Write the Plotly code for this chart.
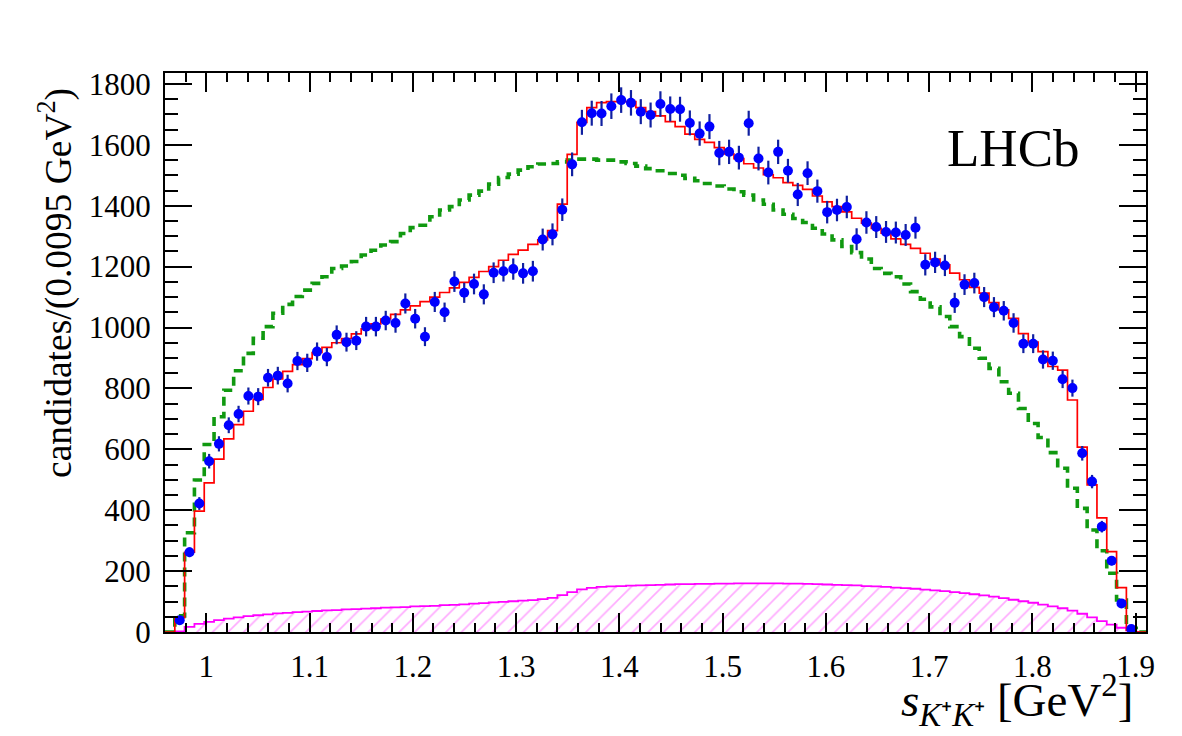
import numpy as np
import plotly.graph_objects as go

# ---- binning (100 bins of 0.0095 GeV^2 from 0.96 to 1.91) ----
x_lo, bin_w, n_bins = 0.96, 0.0095, 100

# ---- data points (bins 1..98) ----
data_counts = [39, 262, 422, 561, 618, 679, 716, 775, 773, 835,
               842, 816, 890, 884, 921, 903, 976, 952, 957, 1003,
               1003, 1023, 1015, 1079, 1029, 970, 1084, 1050, 1151, 1114,
               1143, 1109, 1180, 1185, 1192, 1178, 1185, 1289, 1306, 1387,
               1536, 1674, 1704, 1703, 1727, 1747, 1738, 1709, 1698, 1734,
               1718, 1717, 1672, 1637, 1660, 1573, 1577, 1558, 1671, 1555,
               1509, 1577, 1515, 1437, 1507, 1448, 1379, 1386, 1396, 1290,
               1345, 1330, 1314, 1312, 1304, 1328, 1206, 1214, 1204, 1081,
               1141, 1146, 1100, 1067, 1055, 1015, 947, 947, 895, 891,
               830, 801, 587, 494, 346, 234, 94, 10]
data_errors = [6, 16, 21, 24, 25, 26, 27, 28, 28, 29,
               29, 29, 30, 30, 30, 30, 31, 31, 31, 32,
               32, 32, 32, 33, 32, 31, 33, 32, 34, 33,
               34, 33, 34, 34, 35, 34, 34, 36, 36, 37,
               39, 41, 41, 41, 42, 42, 42, 41, 41, 42,
               41, 41, 41, 40, 41, 40, 40, 39, 41, 39,
               39, 40, 39, 38, 39, 38, 37, 37, 37, 36,
               37, 36, 36, 36, 36, 36, 35, 35, 35, 33,
               34, 34, 33, 33, 32, 32, 31, 31, 30, 30,
               29, 28, 24, 22, 19, 15, 10, 3]
first_data_bin = 1

# ---- total fit (red), bins 0..99 ----
fit_total = [0, 47, 262, 397, 490, 568, 634, 681, 725, 764,
             803, 831, 856, 878, 898, 918, 935, 950, 964, 979,
             996, 1012, 1028, 1043, 1058, 1071, 1085, 1100, 1115, 1130,
             1148, 1165, 1184, 1200, 1221, 1240, 1254, 1273, 1288, 1318,
             1405, 1569, 1674, 1722, 1739, 1742, 1742, 1742, 1722, 1709,
             1695, 1676, 1660, 1635, 1618, 1608, 1591, 1570, 1555, 1538,
             1524, 1502, 1492, 1476, 1467, 1454, 1432, 1413, 1397, 1380,
             1359, 1343, 1326, 1310, 1291, 1273, 1260, 1244, 1225, 1206,
             1179, 1157, 1132, 1113, 1082, 1058, 1030, 980, 952, 921,
             872, 860, 762, 607, 483, 375, 264, 146, 6, 0]

# ---- green dashed component, bins 0..99 ----
fit_green = [0, 53, 326, 499, 616, 707, 794, 858, 915, 965,
             1003, 1047, 1076, 1102, 1123, 1145, 1167, 1194, 1202, 1217,
             1238, 1254, 1271, 1282, 1309, 1328, 1336, 1364, 1386, 1397,
             1419, 1435, 1448, 1471, 1493, 1504, 1517, 1528, 1537, 1539,
             1544, 1550, 1553, 1553, 1550, 1550, 1544, 1539, 1530, 1522,
             1515, 1506, 1500, 1490, 1482, 1473, 1465, 1455, 1446, 1435,
             1419, 1405, 1386, 1372, 1358, 1345, 1326, 1307, 1288, 1266,
             1246, 1225, 1194, 1178, 1167, 1143, 1118, 1093, 1068, 1036,
             1003, 970, 932, 899, 866, 822, 784, 734, 685, 639,
             589, 538, 472, 406, 335, 267, 193, 105, 12, 0]

# ---- magenta hatched background, bins 0..99 ----
fit_bkg = [0, 2, 17, 27, 33, 39, 44, 48, 52, 55,
           58, 61, 63, 65, 67, 69, 71, 72, 74, 75,
           77, 78, 80, 81, 82, 84, 85, 86, 88, 89,
           91, 93, 95, 97, 99, 101, 103, 105, 108, 112,
           121, 131, 140, 145, 148, 150, 151, 152, 153, 154,
           155, 156, 157, 157, 158, 158, 159, 159, 160, 160,
           160, 160, 160, 159, 159, 158, 157, 156, 155, 154,
           153, 151, 150, 148, 146, 144, 142, 139, 137, 134,
           131, 128, 124, 120, 116, 111, 106, 101, 96, 90,
           84, 78, 70, 60, 48, 36, 24, 14, 5, 0]

x_tick_vals = [1.0, 1.1, 1.2, 1.3, 1.4, 1.5, 1.6, 1.7, 1.8, 1.9]
x_tick_text = ["1", "1.1", "1.2", "1.3", "1.4", "1.5", "1.6", "1.7", "1.8", "1.9"]
y_tick_vals = [0, 200, 400, 600, 800, 1000, 1200, 1400, 1600, 1800]
y_tick_text = ["0", "200", "400", "600", "800", "1000", "1200", "1400", "1600", "1800"]

edges = x_lo + bin_w * np.arange(n_bins + 1)
centers = x_lo + bin_w * (np.arange(n_bins) + 0.5)


def step_xy(vals):
    xs = np.concatenate([[edges[0]], edges])
    ys = np.concatenate([[0], vals, [vals[-1]]])
    return xs, ys


FONT = "Liberation Serif"
fig = go.Figure()

bx, by = step_xy(fit_bkg)
fig.add_trace(go.Scatter(
    x=bx, y=by, mode="lines", line=dict(color="#ff00ff", width=1.8, shape="hv"),
    fill="tozeroy", fillcolor="rgba(255,255,255,0)",
    fillpattern=dict(shape="/", fgcolor="#ff55ff", bgcolor="rgba(255,255,255,0)",
                     size=11, solidity=0.15),
    hoverinfo="skip", showlegend=False))

gx, gy = step_xy(fit_green)
fig.add_trace(go.Scatter(
    x=gx, y=gy, mode="lines",
    line=dict(color="#109910", width=3.6, shape="hv", dash="9px,6px"),
    hoverinfo="skip", showlegend=False))

rx, ry = step_xy(fit_total)
fig.add_trace(go.Scatter(
    x=rx, y=ry, mode="lines", line=dict(color="#ff0000", width=1.7, shape="hv"),
    hoverinfo="skip", showlegend=False))

dx = centers[first_data_bin:first_data_bin + len(data_counts)]
fig.add_trace(go.Scatter(
    x=dx, y=data_counts, mode="markers",
    marker=dict(color="#0000ff", size=10, line=dict(width=0)),
    error_y=dict(type="data", array=data_errors, color="#1020a0", thickness=2.2, width=0),
    showlegend=False))

L, R, T, B = 165, 36, 73, 104
W, H = 1182, 736
pw, ph = W - L - R, H - T - B


def px2paper_x(px):
    return (px - L) / pw


def px2paper_y(py):
    return (H - B - py) / ph


axis_common = dict(showline=True, linecolor="black", linewidth=2, mirror="ticks",
                   ticks="inside", tickcolor="black", tickwidth=1.6,
                   showgrid=False, zeroline=False,
                   tickfont=dict(family=FONT, size=31, color="black"))

fig.update_xaxes(range=[x_lo, x_lo + n_bins * bin_w], tickvals=x_tick_vals, ticktext=x_tick_text,
                 ticklen=19, ticklabelstandoff=6,
                 minor=dict(ticks="inside", ticklen=9, dtick=0.02, tick0=1.0,
                            tickcolor="black", tickwidth=1.6, showgrid=False),
                 **axis_common)
fig.update_yaxes(range=[0, 1836], tickvals=y_tick_vals, ticktext=y_tick_text,
                 ticklen=27, ticklabelstandoff=6,
                 minor=dict(ticks="inside", ticklen=13, dtick=50, tick0=0,
                            tickcolor="black", tickwidth=1.6, showgrid=False),
                 **axis_common)

fig.add_annotation(text="candidates/(0.0095 GeV<sup>2</sup>)", textangle=-90,
                   xref="paper", yref="paper", x=px2paper_x(56), y=px2paper_y(86),
                   xanchor="center", yanchor="top", showarrow=False,
                   font=dict(family=FONT, size=37.5, color="black"))
fig.add_annotation(text="<i>s</i><sub><i>K</i>\u207A<i>K</i>\u207A</sub> [GeV<sup>2</sup>]",
                   xref="paper", yref="paper", x=px2paper_x(1135), y=px2paper_y(700),
                   xanchor="right", yanchor="middle", showarrow=False,
                   font=dict(family=FONT, size=47, color="black"))
fig.add_annotation(text="LHCb", xref="paper", yref="paper",
                   x=px2paper_x(1013), y=px2paper_y(148),
                   xanchor="center", yanchor="middle", showarrow=False,
                   font=dict(family=FONT, size=53, color="black"))

fig.update_layout(width=W, height=H, margin=dict(l=L, r=R, t=T, b=B),
                  paper_bgcolor="white", plot_bgcolor="white")

fig.write_html("out.html")
